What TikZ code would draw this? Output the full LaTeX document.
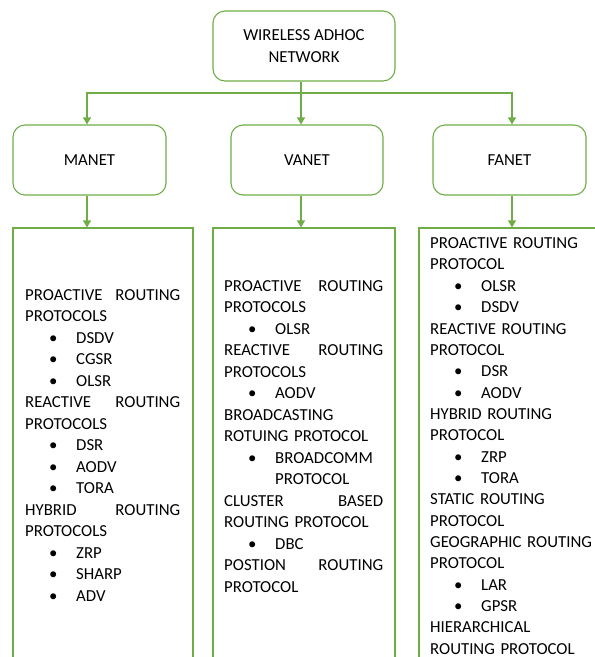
\documentclass[tikz,border=0pt]{standalone}
\usepackage{fontspec}
\setmainfont{Carlito}
\usetikzlibrary{arrows.meta}
\definecolor{grn}{RGB}{112,173,71}
\newcommand\fs{\fontsize{16.8}{21.5}\selectfont}
\newcommand\fsr{\fontsize{16.8}{21.35}\selectfont}
\newcommand\bitem[1]{\hspace*{28pt}\makebox[0pt]{\textbullet}\hspace*{23pt}#1}
\newcommand\jline[3]{\leavevmode\hbox to #1{#2\hfill #3}}
\begin{document}
\begin{tikzpicture}[x=1pt,y=-1pt,
  rbox/.style={draw=grn, line width=1.1pt, rounded corners=12pt, fill=white,
    align=center, font=\fs, inner sep=0pt},
  colbox/.style={draw=grn, line width=1.1pt, inner sep=0pt},
  coltext/.style={anchor=north west, align=left, font=\fs, inner sep=0pt},
  wire/.style={draw=grn, line width=1.1pt},
  conn/.style={wire, -{Triangle[length=7pt,width=8pt]}}]
\useasboundingbox (0,0) rectangle (595,657);
\clip (0,0) rectangle (595,657);
\node[rbox, minimum width=182, minimum height=70] (top) at (304,46) {WIRELESS ADHOC\\NETWORK};
\node[rbox, minimum width=153, minimum height=70] (manet) at (89.5,160) {MANET};
\node[rbox, minimum width=152, minimum height=70] (vanet) at (307,160) {VANET};
\node[rbox, minimum width=153, minimum height=70] (fanet) at (509.5,160) {FANET};
\node[colbox, minimum width=180, minimum height=472] (lrect) at (103,464) {};
\node[colbox, minimum width=182, minimum height=472] (mrect) at (304,464) {};
\node[colbox, minimum width=196, minimum height=472] (rrect) at (517,464) {};
\coordinate (split) at (301,93);
\coordinate (ml) at (87,93);
\coordinate (fr) at (512,93);
\draw[wire] (split |- top.south) -- (split);
\draw[conn] (split) -- (ml) -- (ml |- manet.north);
\draw[conn] (split) -- (split |- vanet.north);
\draw[conn] (split) -- (fr) -- (fr |- fanet.north);
\draw[conn] (ml |- manet.south) -- (ml |- lrect.north);
\draw[conn] (split |- vanet.south) -- (split |- mrect.north);
\draw[conn] (fr |- fanet.south) -- (fr |- rrect.north);
\node[coltext, text width=155] (ltext) at (25,289) {%
\jline{155pt}{PROACTIVE}{ROUTING}\\
PROTOCOLS\\
\bitem{DSDV}\\
\bitem{CGSR}\\
\bitem{OLSR}\\
\jline{155pt}{REACTIVE}{ROUTING}\\
PROTOCOLS\\
\bitem{DSR}\\
\bitem{AODV}\\
\bitem{TORA}\\
\jline{155pt}{HYBRID}{ROUTING}\\
PROTOCOLS\\
\bitem{ZRP}\\
\bitem{SHARP}\\
\bitem{ADV}};
\node[coltext, text width=160] (mtext) at (224,280) {%
\jline{159pt}{PROACTIVE}{ROUTING}\\
PROTOCOLS\\
\bitem{OLSR}\\
\jline{159pt}{REACTIVE}{ROUTING}\\
PROTOCOLS\\
\bitem{AODV}\\
BROADCASTING\\
ROTUING PROTOCOL\\
\bitem{BROADCOMM}\\
\hspace*{51pt}PROTOCOL\\
\jline{159pt}{CLUSTER}{BASED}\\
ROUTING PROTOCOL\\
\bitem{DBC}\\
\jline{159pt}{POSTION}{ROUTING}\\
PROTOCOL};
\node[coltext, font=\fsr, text width=170] (rtext) at (430,237.5) {%
PROACTIVE ROUTING\\
PROTOCOL\\
\bitem{OLSR}\\
\bitem{DSDV}\\
REACTIVE ROUTING\\
PROTOCOL\\
\bitem{DSR}\\
\bitem{AODV}\\
HYBRID ROUTING\\
PROTOCOL\\
\bitem{ZRP}\\
\bitem{TORA}\\
STATIC ROUTING\\
PROTOCOL\\
GEOGRAPHIC ROUTING\\
PROTOCOL\\
\bitem{LAR}\\
\bitem{GPSR}\\
HIERARCHICAL\\
ROUTING PROTOCOL};
\end{tikzpicture}
\end{document}
